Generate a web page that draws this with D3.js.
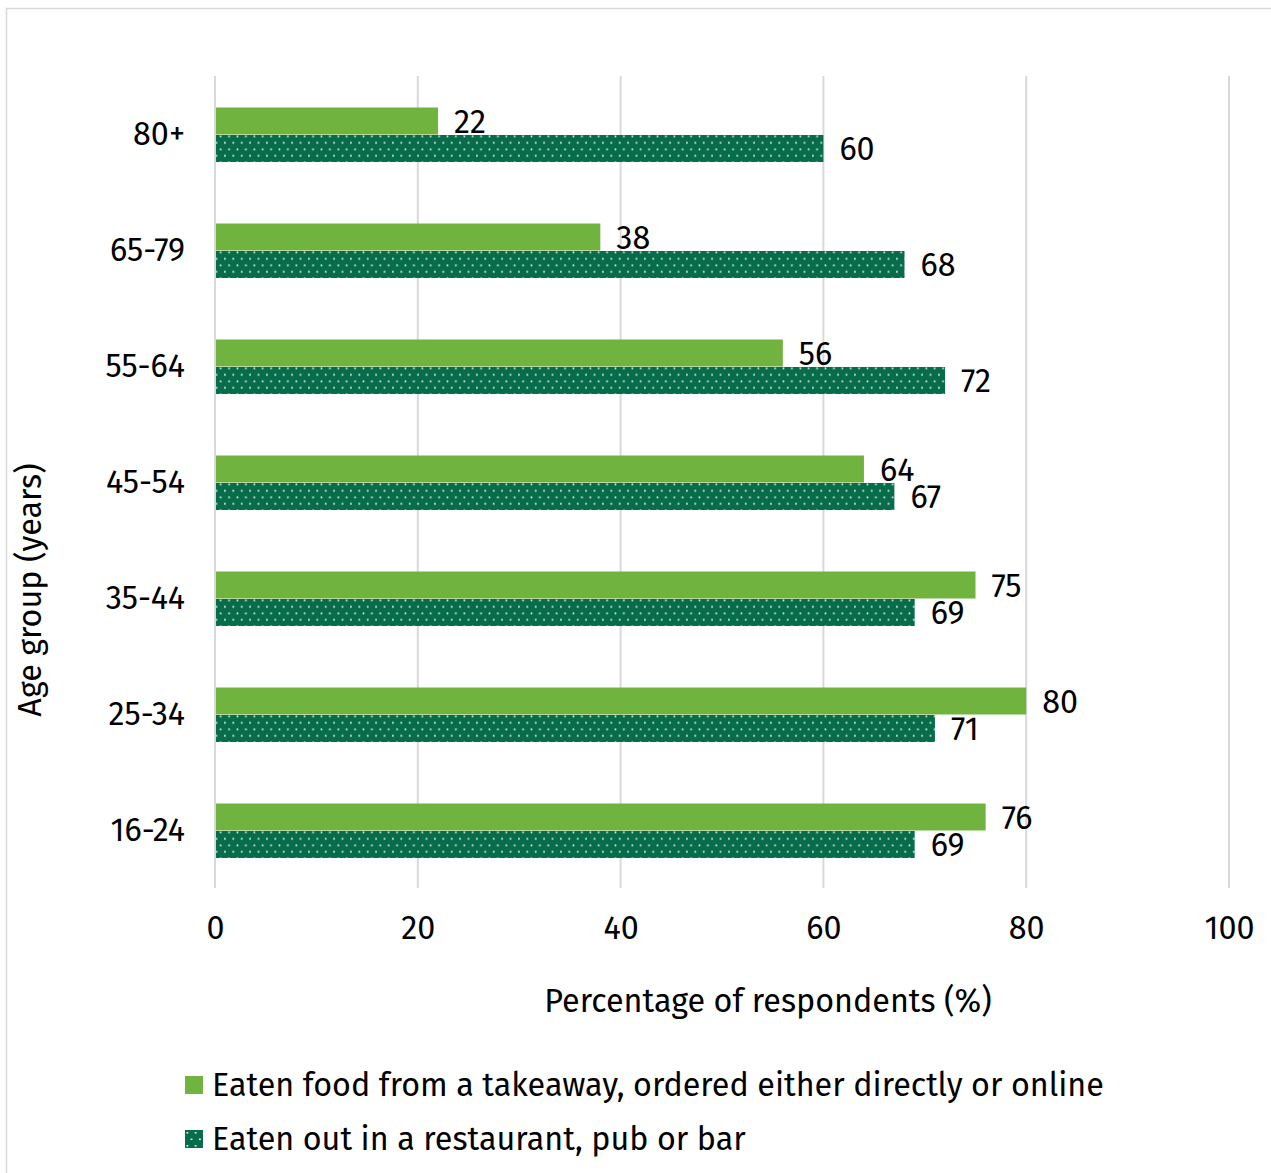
<!DOCTYPE html>
<html>
<head>
<meta charset="utf-8">
<script src="https://cdnjs.cloudflare.com/ajax/libs/d3/7.8.5/d3.min.js"></script>
<style>
  body { margin: 0; background: #fff; }
  svg text { font-family: "Fira Sans", "Open Sans", "Noto Sans", sans-serif; fill: #000; }
</style>
</head>
<body>
<div id="chart"></div>
<script>
// age groups, top to bottom as drawn
const ageGroups = ['80+', '65-79', '55-64', '45-54', '35-44', '25-34', '16-24'];
const takeaway = [22, 38, 56, 64, 75, 80, 76];
const eatenOut = [60, 68, 72, 67, 69, 71, 69];
const seriesNames = [
    'Eaten food from a takeaway, ordered either directly or online',
    'Eaten out in a restaurant, pub or bar'
];
const xTicks = [0, 20, 40, 60, 80, 100];

const width = 1271, height = 1173;
const plotLeft = 215, plotRight = 1229, plotTop = 76, plotBottom = 888;
const fontSize = '32.3px';

const svg = d3.select('#chart')
    .append('svg')
    .attr('width', width)
    .attr('height', height);

// dotted fill for the second series
const pat = svg.append('defs').append('pattern')
    .attr('id', 'dots')
    .attr('patternUnits', 'userSpaceOnUse')
    .attr('width', 8.4)
    .attr('height', 13);
pat.append('rect').attr('width', 8.4).attr('height', 13).attr('fill', '#066c4a');
pat.append('rect').attr('x', 1.5).attr('y', 2).attr('width', 1.6).attr('height', 1.6).attr('fill', '#fff');
pat.append('rect').attr('x', 5.7).attr('y', 8.5).attr('width', 1.6).attr('height', 1.6).attr('fill', '#fff');

// outer frame
svg.append('rect')
    .attr('x', 6.5).attr('y', 8.5)
    .attr('width', width).attr('height', height)
    .attr('fill', 'none')
    .attr('stroke', '#d9d9d9')
    .attr('stroke-width', 1.5);

const x = d3.scaleLinear().domain([0, 100]).range([plotLeft, plotRight]);
const y = d3.scaleBand().domain(ageGroups).range([plotTop + 1, plotBottom + 1]).paddingInner(0.526).paddingOuter(0.263);
const sub = d3.scaleBand().domain([0, 1]).range([0, y.bandwidth()]);

// gridlines
svg.append('g')
    .selectAll('line')
    .data(xTicks)
    .enter()
    .append('line')
    .attr('x1', d => x(d)).attr('x2', d => x(d))
    .attr('y1', plotTop).attr('y2', plotBottom)
    .attr('stroke', '#d9d9d9')
    .attr('stroke-width', 2);

// x axis labels
const xAxis = svg.append('g')
    .attr('transform', `translate(0,${plotBottom})`)
    .call(d3.axisBottom(x).tickValues(xTicks).tickSize(0).tickPadding(28));
xAxis.select('.domain').remove();
xAxis.selectAll('text').style('font-size', fontSize).attr('fill', '#000');

// y axis labels
const yAxis = svg.append('g')
    .attr('transform', `translate(${plotLeft},0)`)
    .call(d3.axisLeft(y).tickSize(0).tickPadding(30));
yAxis.select('.domain').remove();
yAxis.selectAll('text').style('font-size', fontSize).attr('fill', '#000');

const rows = ageGroups.map((g, i) => ({ group: g, vals: [takeaway[i], eatenOut[i]] }));
const fills = ['#71b33f', 'url(#dots)'];

const rowG = svg.selectAll('.row')
    .data(rows)
    .enter()
    .append('g')
    .attr('class', 'row')
    .attr('transform', d => `translate(0,${y(d.group)})`);

rowG.selectAll('rect')
    .data(d => d.vals)
    .enter()
    .append('rect')
    .attr('x', x(0) + 1)
    .attr('y', (d, i) => sub(i))
    .attr('width', d => x(d) - x(0) - 1)
    .attr('height', sub.bandwidth() - 0.5)
    .attr('fill', (d, i) => fills[i]);

rowG.selectAll('text')
    .data(d => d.vals)
    .enter()
    .append('text')
    .attr('x', d => x(d) + 16)
    .attr('y', (d, i) => sub(i) + sub.bandwidth() / 2)
    .attr('dy', '0.36em')
    .style('font-size', fontSize)
    .text(d => d);

// axis titles
svg.append('text')
    .attr('x', 768)
    .attr('y', 1012)
    .attr('text-anchor', 'middle')
    .style('font-size', fontSize)
    .text('Percentage of respondents (%)');

svg.append('text')
    .attr('transform', 'translate(41,590) rotate(-90)')
    .attr('text-anchor', 'middle')
    .style('font-size', fontSize)
    .text('Age group (years)');

// legend
const legend = svg.selectAll('.legend')
    .data(seriesNames)
    .enter()
    .append('g')
    .attr('class', 'legend')
    .attr('transform', (d, i) => `translate(185,${1076 + i * 54})`);

legend.append('rect')
    .attr('width', 18).attr('height', 18)
    .attr('fill', (d, i) => fills[i]);

legend.append('text')
    .attr('x', 27)
    .attr('y', 9)
    .attr('dy', '0.34em')
    .style('font-size', fontSize)
    .text(d => d);
</script>
</body>
</html>
